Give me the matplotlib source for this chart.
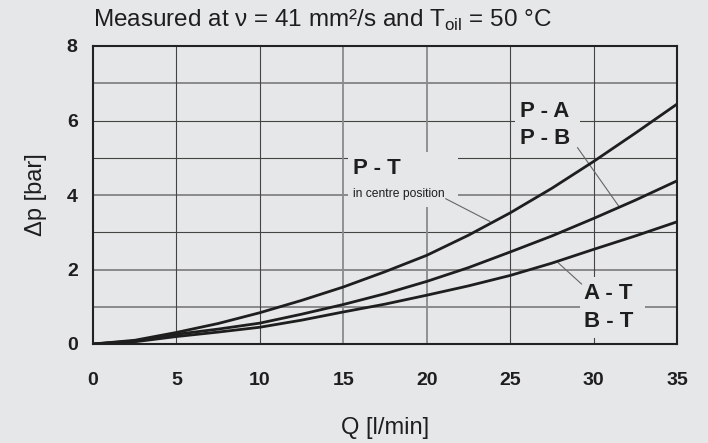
import numpy as np
import matplotlib.pyplot as plt
from matplotlib.patches import Rectangle

# flow Q [l/min] and pressure drop dp [bar]
q = [0, 2.5, 5, 7.5, 10, 12.5, 15, 17.5, 20, 22.5, 25, 27.5, 30, 32.5, 35]
dp_pt = [0, 0.1, 0.31, 0.55, 0.84, 1.17, 1.53, 1.94, 2.38, 2.92, 3.52, 4.18, 4.9, 5.66, 6.44]
dp_pa = [0, 0.08, 0.26, 0.4, 0.56, 0.8, 1.06, 1.35, 1.68, 2.05, 2.47, 2.9, 3.37, 3.86, 4.38]
dp_at = [0, 0.06, 0.2, 0.32, 0.45, 0.64, 0.86, 1.07, 1.31, 1.56, 1.84, 2.17, 2.54, 2.9, 3.28]

x_ticks = [0, 5, 10, 15, 20, 25, 30, 35]
y_ticks = [0, 2, 4, 6, 8]

bg = '#e6e7e8'
ink = '#1e1e1e'
narrow = ['Liberation Sans Narrow', 'Liberation Sans', 'DejaVu Sans']
bold = ['Liberation Sans', 'DejaVu Sans']

plt.rcParams['font.family'] = narrow

fig = plt.figure(figsize=(7.08, 4.43), dpi=100, facecolor=bg)
ax = fig.add_axes([93/708, 1 - 344/443, (677-93)/708, (344-46)/443])
ax.set_facecolor(bg)

ax.set_xlim(0, 35)
ax.set_ylim(0, 8)

# grid: some lines printed dark/thin, others lighter/thicker
for yv in range(1, 8):
    if yv in (1, 2, 4, 7):
        ax.axhline(yv, color='#8a8a8a', lw=1.4, zorder=1)
    else:
        ax.axhline(yv, color='#444444', lw=0.8, zorder=1)
for xv in x_ticks[1:-1]:
    if xv in (15, 20):
        ax.axvline(xv, color='#8a8a8a', lw=1.3, zorder=1)
    else:
        ax.axvline(xv, color='#444444', lw=0.8, zorder=1)

# blank areas behind the labels
for x0, x1, y0, y1 in [(15.3, 21.9, 3.68, 5.15), (25.3, 29.2, 5.2, 6.6), (29.2, 33.1, 0.15, 1.8)]:
    ax.add_patch(Rectangle((x0, y0), x1 - x0, y1 - y0, facecolor=bg, edgecolor='none', zorder=2))

for ys in (dp_pt, dp_pa, dp_at):
    ax.plot(q, ys, color=ink, lw=2.0, zorder=3, solid_capstyle='round')

for s in ax.spines.values():
    s.set_linewidth(1.5)
    s.set_color('#222222')

ax.set_xticks(x_ticks)
ax.set_yticks(y_ticks)
ax.tick_params(length=0, labelsize=14, colors=ink)
ax.tick_params(axis='x', pad=20)
ax.tick_params(axis='y', pad=11)
for lab in ax.get_xticklabels() + ax.get_yticklabels():
    lab.set_family(bold)
    lab.set_fontweight('bold')

lab_kw = dict(family=bold, fontweight='bold', fontsize=16, color=ink,
              ha='left', va='center', zorder=4)
ax.text(25.6, 6.25, 'P - A', **lab_kw)
ax.text(25.6, 5.52, 'P - B', **lab_kw)
ax.text(15.6, 4.72, 'P - T', **lab_kw)
ax.text(15.6, 4.02, 'in centre position', family=bold, fontsize=8.7, color=ink,
        ha='left', va='center', zorder=4)
ax.text(29.45, 1.36, 'A - T', **lab_kw)
ax.text(29.45, 0.6, 'B - T', **lab_kw)

# leader lines
lead = dict(color='#666666', lw=0.8, zorder=2.5)
ax.plot([21.14, 23.78], [3.9, 3.29], **lead)
ax.plot([29.04, 31.54], [5.27, 3.68], **lead)
ax.plot([27.88, 29.28], [2.18, 1.61], **lead)

ax.set_xlabel('Q [l/min]', fontsize=17, color=ink, labelpad=20)
ax.set_ylabel('\u0394p [bar]', fontsize=17, color=ink, labelpad=14)

fig.text(93/708, 1 - 20/443, 'Measured at \u03bd = 41 mm\u00b2/s and T$_{\\mathregular{oil}}$ = 50 \u00b0C',
         fontsize=17.5, color=ink, ha='left', va='center')

fig.savefig('out.png', dpi=100, facecolor=bg)
